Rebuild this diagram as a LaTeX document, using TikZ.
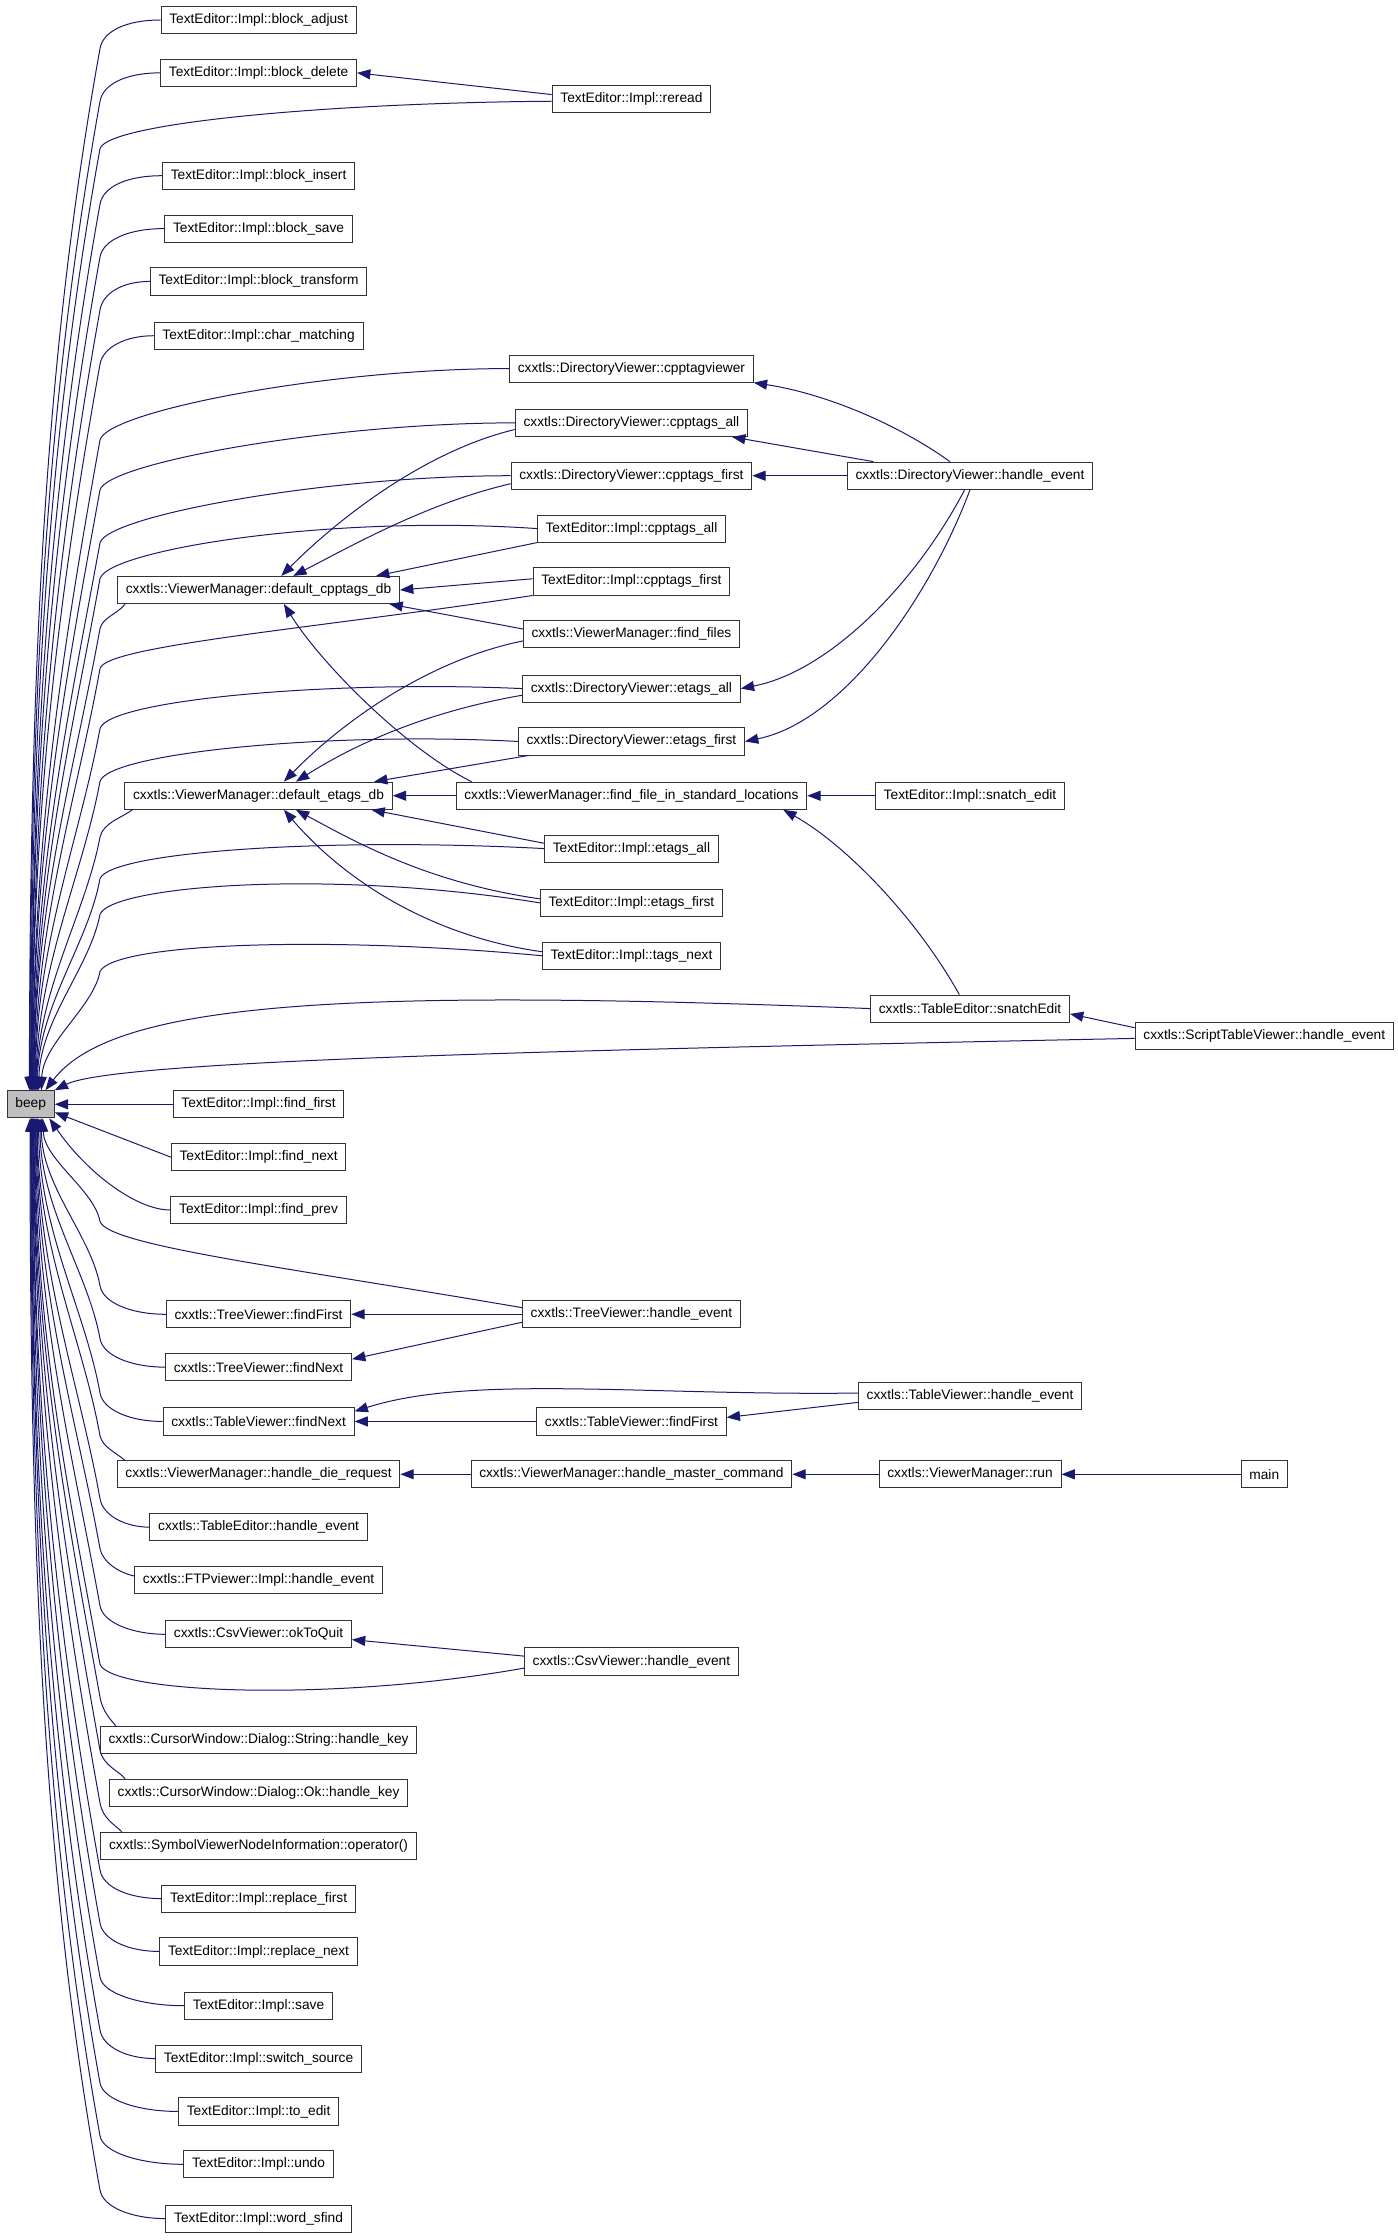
\documentclass[tikz,border=0pt]{standalone}
\usepackage{fontspec}
\setmainfont{Liberation Sans}
\usepackage{tikz}
\usetikzlibrary{arrows.meta}
\definecolor{edgeblue}{HTML}{191970}
\definecolor{boxline}{HTML}{333333}
\definecolor{beepfill}{HTML}{BFBFBF}

\begin{document}
\begin{tikzpicture}[
  x=1.0713pt, y=-1.0713pt,
  font=\fontsize{10.3}{12}\selectfont,
  >={Triangle[length=10pt,width=7.5pt]},
  func/.style={
    draw=boxline,
    fill=white,
    line width=0.7pt,
    inner xsep=6.2pt,
    inner ysep=0pt,
    minimum height=20.4pt
  },
  calls/.style={
    ->,
    draw=edgeblue,
    line width=0.75pt
  }
]
  \useasboundingbox (0,0) rectangle (978,1568);

  % --- the function everything calls ---
  \node[func, fill=beepfill] (beep) at (21.5,773) {beep};

  % --- direct callers ---
  \node[func] (badjust) at (181,14) {TextEditor::Impl::block\_adjust};
  \node[func] (bdelete) at (181,51) {TextEditor::Impl::block\_delete};
  \node[func] (binsert) at (181,123) {TextEditor::Impl::block\_insert};
  \node[func] (bsave) at (181,160) {TextEditor::Impl::block\_save};
  \node[func] (btransform) at (181,197) {TextEditor::Impl::block\_transform};
  \node[func] (charmatch) at (181,235) {TextEditor::Impl::char\_matching};
  \node[func] (dcpptags) at (181,413) {cxxtls::ViewerManager::default\_cpptags\_db};
  \node[func] (detags) at (181,557) {cxxtls::ViewerManager::default\_etags\_db};
  \node[func] (findfirst) at (181,773) {TextEditor::Impl::find\_first};
  \node[func] (findnext) at (181,810) {TextEditor::Impl::find\_next};
  \node[func] (findprev) at (181,847) {TextEditor::Impl::find\_prev};
  \node[func] (tvfindfirst) at (181,920) {cxxtls::TreeViewer::findFirst};
  \node[func] (tvfindnext) at (181,957) {cxxtls::TreeViewer::findNext};
  \node[func] (tbfindnext) at (181,995) {cxxtls::TableViewer::findNext};
  \node[func] (dierequest) at (181,1032) {cxxtls::ViewerManager::handle\_die\_request};
  \node[func] (tehandle) at (181,1069) {cxxtls::TableEditor::handle\_event};
  \node[func] (ftphandle) at (181,1106) {cxxtls::FTPviewer::Impl::handle\_event};
  \node[func] (oktoquit) at (181,1144) {cxxtls::CsvViewer::okToQuit};
  \node[func] (strkey) at (181,1218) {cxxtls::CursorWindow::Dialog::String::handle\_key};
  \node[func] (okkey) at (181,1255) {cxxtls::CursorWindow::Dialog::Ok::handle\_key};
  \node[func] (symop) at (181,1292) {cxxtls::SymbolViewerNodeInformation::operator()};
  \node[func] (repfirst) at (181,1329) {TextEditor::Impl::replace\_first};
  \node[func] (repnext) at (181,1366) {TextEditor::Impl::replace\_next};
  \node[func] (save) at (181,1404) {TextEditor::Impl::save};
  \node[func] (switchsrc) at (181,1441) {TextEditor::Impl::switch\_source};
  \node[func] (toedit) at (181,1478) {TextEditor::Impl::to\_edit};
  \node[func] (undo) at (181,1515) {TextEditor::Impl::undo};
  \node[func] (wordsfind) at (181,1553) {TextEditor::Impl::word\_sfind};

  % --- second rank ---
  \node[func] (reread) at (442,69) {TextEditor::Impl::reread};
  \node[func] (cpptagviewer) at (442,258) {cxxtls::DirectoryViewer::cpptagviewer};
  \node[func] (dvcpptagsall) at (442,296) {cxxtls::DirectoryViewer::cpptags\_all};
  \node[func] (dvcpptagsfirst) at (442,333) {cxxtls::DirectoryViewer::cpptags\_first};
  \node[func] (tecpptagsall) at (442,370) {TextEditor::Impl::cpptags\_all};
  \node[func] (tecpptagsfirst) at (442,407) {TextEditor::Impl::cpptags\_first};
  \node[func] (findfiles) at (442,444) {cxxtls::ViewerManager::find\_files};
  \node[func] (dvetagsall) at (442,482) {cxxtls::DirectoryViewer::etags\_all};
  \node[func] (dvetagsfirst) at (442,519) {cxxtls::DirectoryViewer::etags\_first};
  \node[func] (findfile) at (442,557) {cxxtls::ViewerManager::find\_file\_in\_standard\_locations};
  \node[func] (teetagsall) at (442,594) {TextEditor::Impl::etags\_all};
  \node[func] (teetagsfirst) at (442,632) {TextEditor::Impl::etags\_first};
  \node[func] (tagsnext) at (442,669) {TextEditor::Impl::tags\_next};
  \node[func] (tvhandle) at (442,920) {cxxtls::TreeViewer::handle\_event};
  \node[func] (tbfindfirst) at (442,995) {cxxtls::TableViewer::findFirst};
  \node[func] (mastercmd) at (442,1032) {cxxtls::ViewerManager::handle\_master\_command};
  \node[func] (csvhandle) at (442,1163) {cxxtls::CsvViewer::handle\_event};

  % --- third and fourth rank ---
  \node[func] (dvhandle) at (679,333) {cxxtls::DirectoryViewer::handle\_event};
  \node[func] (snatchedit) at (679,557) {TextEditor::Impl::snatch\_edit};
  \node[func] (snatchEdit) at (679,706) {cxxtls::TableEditor::snatchEdit};
  \node[func] (tbhandle) at (679,977) {cxxtls::TableViewer::handle\_event};
  \node[func] (vmrun) at (679,1032) {cxxtls::ViewerManager::run};
  \node[func] (scripthandle) at (885,725) {cxxtls::ScriptTableViewer::handle\_event};
  \node[func] (main) at (885,1032) {main};

  % callers above beep
  \draw[calls] (badjust.west) .. controls (88,14) and (72,22) .. (70,34) .. controls (30.6,253) and (21,472) .. ([xshift=-1pt]beep.north);
  \draw[calls] (bdelete.west) .. controls (88,51) and (72,59) .. (70,71) .. controls (32.6,279) and (21,487) .. ([xshift=-0.5pt]beep.north);
  \draw[calls] ([yshift=-2pt]reread.west) .. controls (230,72) and (76,86) .. (70,104) .. controls (34.4,302) and (21.5,500) .. (beep.north);
  \draw[calls] (binsert.west) .. controls (88,123) and (72,131) .. (70,143) .. controls (36.5,329) and (22,516) .. ([xshift=0.5pt]beep.north);
  \draw[calls] (bsave.west) .. controls (90,160) and (72,168) .. (70,180) .. controls (38.5,355) and (22,530) .. ([xshift=0.5pt]beep.north);
  \draw[calls] (btransform.west) .. controls (86,197) and (72,205) .. (70,217) .. controls (40.5,381) and (22.5,545) .. ([xshift=1pt]beep.north);
  \draw[calls] (charmatch.west) .. controls (88,235) and (72,243) .. (70,255) .. controls (42.5,408) and (22.5,560) .. ([xshift=1pt]beep.north);
  \draw[calls] (cpptagviewer.west) .. controls (228,258) and (75,288) .. (70,308) .. controls (45.4,445) and (23,582) .. ([xshift=1.5pt]beep.north);
  \draw[calls] (dvcpptagsall.west) .. controls (231,296) and (75,324) .. (70,343) .. controls (47,469) and (23,596) .. ([xshift=1.5pt]beep.north);
  \draw[calls] (dvcpptagsfirst.west) .. controls (228,333) and (75,361) .. (70,380) .. controls (49,495) and (23.5,610) .. ([xshift=2pt]beep.north);
  \draw[calls] (tecpptagsall.west) .. controls (230,360) and (76,385) .. (70,405) .. controls (50.6,513) and (24,620) .. ([xshift=2.5pt]beep.north);
  \draw[calls] ([xshift=6pt]dcpptags.south west) .. controls (82,430) and (72,432) .. (70,440) .. controls (52.5,537) and (24,634) .. ([xshift=2.5pt]beep.north);
  \draw[calls] (tecpptagsfirst.south west) .. controls (220,440) and (74,452) .. (70,468) .. controls (54,557) and (25,646) .. ([xshift=3pt]beep.north);
  \draw[calls] (dvetagsall.west) .. controls (230,476) and (76,490) .. (70,510) .. controls (56,586) and (25,662) .. ([xshift=3.5pt]beep.north);
  \draw[calls] (dvetagsfirst.west) .. controls (230,512) and (76,527) .. (70,547) .. controls (58,612) and (26,677) .. ([xshift=4pt]beep.north);
  \draw[calls] ([xshift=6pt]detags.south west) .. controls (86,572) and (72,576) .. (70,586) .. controls (60,639) and (26.5,693) .. ([xshift=4.5pt]beep.north);
  \draw[calls] (teetagsall.west) .. controls (230,586) and (78,596) .. (70,615) .. controls (62,660) and (27,704) .. ([xshift=5pt]beep.north);
  \draw[calls] (teetagsfirst.west) .. controls (230,608) and (78,620) .. (70,640) .. controls (63,677) and (28,714) .. ([xshift=6pt]beep.north);
  \draw[calls] (tagsnext.west) .. controls (230,655) and (80,660) .. (70,680) .. controls (65.5,705) and (30,730) .. ([xshift=8pt]beep.north);
  \draw[calls] (snatchEdit.west) .. controls (250,692) and (80,700) .. ([xshift=11pt]beep.north);
  \draw[calls] ([yshift=-2pt]scripthandle.west) .. controls (400,735) and (80,742) .. (beep.north east);

  % callers beside and below beep
  \draw[calls] (findfirst.west) -- (beep.east);
  \draw[calls] (findnext.west) -- ([yshift=-6pt]beep.east);
  \draw[calls] (findprev.west) .. controls (95,847) and (60,820) .. ([xshift=-4pt]beep.south east);
  \draw[calls] ([yshift=5pt]tvhandle.west) .. controls (200,887) and (76,872) .. (70,855) .. controls (66,833) and (31,812) .. ([xshift=9pt]beep.south);
  \draw[calls] (tvfindfirst.west) .. controls (92,920) and (72,912) .. (70,900) .. controls (63.7,865) and (29,830) .. ([xshift=8pt]beep.south);
  \draw[calls] (tvfindnext.west) .. controls (92,957) and (72,949) .. (70,937) .. controls (61.7,891) and (28,845) .. ([xshift=7pt]beep.south);
  \draw[calls] (tbfindnext.west) .. controls (91,995) and (72,987) .. (70,975) .. controls (59.6,917) and (27,860) .. ([xshift=6pt]beep.south);
  \draw[calls] ([xshift=6pt]dierequest.north west) .. controls (80,1016) and (72,1013) .. (70,1005) .. controls (58,938) and (26,872) .. ([xshift=5pt]beep.south);
  \draw[calls] (tehandle.west) .. controls (88,1069) and (72,1061) .. (70,1049) .. controls (55.6,969) and (26,889) .. ([xshift=4.5pt]beep.south);
  \draw[calls] ([yshift=3pt]ftphandle.west) .. controls (84,1101) and (72,1094) .. (70,1084) .. controls (53.7,994) and (25.5,903) .. ([xshift=4pt]beep.south);
  \draw[calls] (oktoquit.west) .. controls (93,1144) and (72,1136) .. (70,1124) .. controls (51.6,1022) and (25,919) .. ([xshift=3.5pt]beep.south);
  \draw[calls] ([yshift=-5pt]csvhandle.west) .. controls (230,1192) and (78,1185) .. (70,1165) .. controls (49.4,1050) and (24.5,936) .. ([xshift=3pt]beep.south);
  \draw[calls] ([xshift=12pt]strkey.north west) .. controls (78,1204) and (72,1199) .. (70,1188) .. controls (48,1066) and (24,945) .. ([xshift=2.5pt]beep.south);
  \draw[calls] ([xshift=12pt]okkey.north west) .. controls (84,1240) and (72,1236) .. (70,1225) .. controls (46,1092) and (24,960) .. ([xshift=2pt]beep.south);
  \draw[calls] ([xshift=16pt]symop.north west) .. controls (80,1277) and (72,1273) .. (70,1262) .. controls (44,1118) and (23.5,975) .. ([xshift=2pt]beep.south);
  \draw[calls] (repfirst.west) .. controls (90,1329) and (72,1321) .. (70,1309) .. controls (41.6,1151) and (23,993) .. ([xshift=1.5pt]beep.south);
  \draw[calls] (repnext.west) .. controls (90,1366) and (72,1358) .. (70,1346) .. controls (39.6,1177) and (23,1008) .. ([xshift=1.5pt]beep.south);
  \draw[calls] (save.west) .. controls (100,1404) and (72,1396) .. (70,1384) .. controls (37.5,1204) and (22.5,1023) .. ([xshift=1pt]beep.south);
  \draw[calls] (switchsrc.west) .. controls (89,1441) and (72,1433) .. (70,1421) .. controls (35.5,1230) and (22,1038) .. ([xshift=0.5pt]beep.south);
  \draw[calls] (toedit.west) .. controls (97,1478) and (72,1470) .. (70,1458) .. controls (33.5,1255) and (22,1053) .. ([xshift=0.5pt]beep.south);
  \draw[calls] (undo.west) .. controls (99,1515) and (72,1507) .. (70,1495) .. controls (31.5,1281) and (21.5,1068) .. (beep.south);
  \draw[calls] (wordsfind.west) .. controls (92,1553) and (72,1545) .. (70,1533) .. controls (29.5,1308) and (21,1083) .. ([xshift=-0.5pt]beep.south);

  % TextEditor and DirectoryViewer chains
  \draw[calls] ([yshift=3pt]reread.west) -- (bdelete.east);
  \draw[calls] ([xshift=-15pt]dvhandle.north) .. controls (630,298) and (580,276) .. (cpptagviewer.south east);
  \draw[calls] ([xshift=20pt]dvhandle.north west) -- ([xshift=-12pt]dvcpptagsall.south east);
  \draw[calls] (dvhandle.west) -- (dvcpptagsfirst.east);
  \draw[calls] ([xshift=-4pt]dvhandle.south) .. controls (640,410) and (580,470) .. (dvetagsall.east);
  \draw[calls] (dvhandle.south) .. controls (650,420) and (590,505) .. (dvetagsfirst.east);

  % into default_cpptags_db
  \draw[calls] ([yshift=-5pt]dvcpptagsall.west) .. controls (300,315) and (240,360) .. ([xshift=17pt]dcpptags.north);
  \draw[calls] ([yshift=-6pt]dvcpptagsfirst.west) .. controls (300,352) and (250,380) .. ([xshift=26pt]dcpptags.north);
  \draw[calls] (tecpptagsall.south west) -- ([xshift=-18pt]dcpptags.north east);
  \draw[calls] ([yshift=2pt]tecpptagsfirst.west) -- (dcpptags.east);
  \draw[calls] ([yshift=4pt]findfiles.west) -- ([xshift=-8pt]dcpptags.south east);
  \draw[calls] ([xshift=12pt]findfile.north west) .. controls (285,525) and (225,465) .. ([xshift=19pt]dcpptags.south);

  % into default_etags_db
  \draw[calls] ([yshift=-5pt]findfiles.west) .. controls (300,462) and (240,505) .. ([xshift=19pt]detags.north);
  \draw[calls] ([yshift=-5pt]dvetagsall.west) .. controls (300,498) and (250,520) .. ([xshift=28pt]detags.north);
  \draw[calls] ([xshift=8pt]dvetagsfirst.south west) -- ([xshift=-14pt]detags.north east);
  \draw[calls] (findfile.west) -- (detags.east);
  \draw[calls] ([yshift=4pt]teetagsall.west) -- ([xshift=-16pt]detags.south east);
  \draw[calls] ([yshift=3pt]teetagsfirst.west) .. controls (300,618) and (250,590) .. ([xshift=28pt]detags.south);
  \draw[calls] ([yshift=3pt]tagsnext.west) .. controls (300,655) and (240,615) .. ([xshift=19pt]detags.south);

  % find_file and snatch chains
  \draw[calls] (snatchedit.west) -- (findfile.east);
  \draw[calls] ([xshift=-8pt]snatchEdit.north) .. controls (640,640) and (590,590) .. ([xshift=-18pt]findfile.south east);
  \draw[calls] ([yshift=6pt]scripthandle.west) -- ([yshift=-4pt]snatchEdit.east);

  % viewer chains
  \draw[calls] (tvhandle.west) -- (tvfindfirst.east);
  \draw[calls] ([yshift=-6pt]tvhandle.west) -- ([yshift=6pt]tvfindnext.east);
  \draw[calls] ([yshift=2pt]tbhandle.west) .. controls (450,977) and (330,962) .. ([yshift=-3pt]tbfindnext.north east);
  \draw[calls] ([yshift=-5pt]tbhandle.west) -- ([yshift=3pt]tbfindfirst.east);
  \draw[calls] (tbfindfirst.west) -- (tbfindnext.east);
  \draw[calls] (mastercmd.west) -- (dierequest.east);
  \draw[calls] (vmrun.west) -- (mastercmd.east);
  \draw[calls] (main.west) -- (vmrun.east);
  \draw[calls] ([yshift=4pt]csvhandle.west) -- ([yshift=-4pt]oktoquit.east);

\end{tikzpicture}
\end{document}
